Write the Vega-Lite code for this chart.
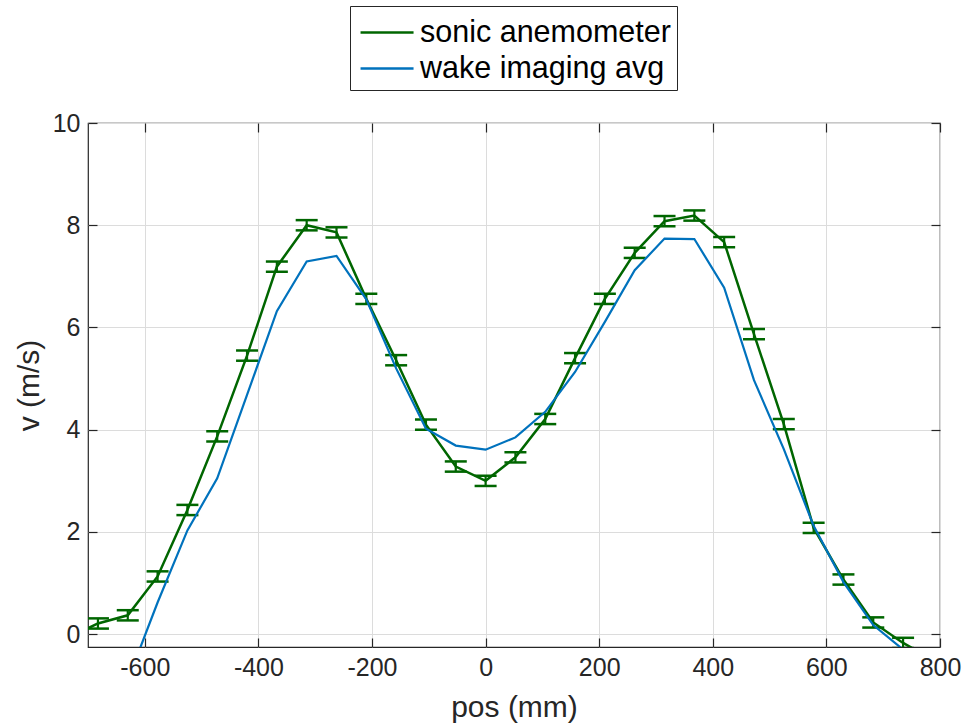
{
  "$schema": "https://vega.github.io/schema/vega-lite/v6.json",
  "width": 852,
  "height": 524,
  "autosize": {"type": "none"},
  "padding": {"left": 88, "top": 123, "right": 25, "bottom": 81},
  "config": {
    "view": {"stroke": "#262626", "strokeWidth": 1.2},
    "font": "Liberation Sans",
    "axis": {
      "domain": false,
      "tickColor": "#262626",
      "tickSize": -9,
      "tickWidth": 1.2,
      "labelColor": "#262626",
      "labelFontSize": 25,
      "labelFont": "Liberation Sans",
      "labelFlush": false,
      "labelOverlap": false,
      "titleFontSize": 30,
      "titleFont": "Liberation Sans",
      "titleFontWeight": "normal",
      "titleColor": "#262626",
      "gridColor": "#dcdcdc",
      "gridWidth": 1
    }
  },
  "datasets": {
    "sonic": [
      {"pos": -735, "v": -0.07, "err": 0.1},
      {"pos": -682.5, "v": 0.21, "err": 0.1},
      {"pos": -630, "v": 0.37, "err": 0.1},
      {"pos": -577.5, "v": 1.13, "err": 0.1},
      {"pos": -525, "v": 2.43, "err": 0.1},
      {"pos": -472.5, "v": 3.87, "err": 0.1},
      {"pos": -420, "v": 5.45, "err": 0.1},
      {"pos": -367.5, "v": 7.19, "err": 0.1},
      {"pos": -315, "v": 8.0, "err": 0.1},
      {"pos": -262.5, "v": 7.86, "err": 0.1},
      {"pos": -210, "v": 6.56, "err": 0.1},
      {"pos": -157.5, "v": 5.36, "err": 0.1},
      {"pos": -105, "v": 4.1, "err": 0.1},
      {"pos": -52.5, "v": 3.28, "err": 0.1},
      {"pos": 0, "v": 3.0, "err": 0.1},
      {"pos": 52.5, "v": 3.46, "err": 0.1},
      {"pos": 105, "v": 4.21, "err": 0.1},
      {"pos": 157.5, "v": 5.4, "err": 0.1},
      {"pos": 210, "v": 6.56, "err": 0.1},
      {"pos": 262.5, "v": 7.46, "err": 0.1},
      {"pos": 315, "v": 8.08, "err": 0.1},
      {"pos": 367.5, "v": 8.19, "err": 0.1},
      {"pos": 420, "v": 7.67, "err": 0.1},
      {"pos": 472.5, "v": 5.87, "err": 0.1},
      {"pos": 525, "v": 4.11, "err": 0.1},
      {"pos": 577.5, "v": 2.08, "err": 0.1},
      {"pos": 630, "v": 1.07, "err": 0.1},
      {"pos": 682.5, "v": 0.23, "err": 0.1},
      {"pos": 735, "v": -0.17, "err": 0.1},
      {"pos": 787.5, "v": -0.5, "err": 0.1}
    ],
    "wake": [
      {"pos": -630, "v": -0.9},
      {"pos": -577.5, "v": 0.62},
      {"pos": -525, "v": 2.03},
      {"pos": -472.5, "v": 3.05},
      {"pos": -420, "v": 4.68},
      {"pos": -367.5, "v": 6.32},
      {"pos": -315, "v": 7.29},
      {"pos": -262.5, "v": 7.4},
      {"pos": -210, "v": 6.55},
      {"pos": -157.5, "v": 5.2},
      {"pos": -105, "v": 4.02},
      {"pos": -52.5, "v": 3.69},
      {"pos": 0, "v": 3.61},
      {"pos": 52.5, "v": 3.85},
      {"pos": 105, "v": 4.35},
      {"pos": 157.5, "v": 5.13},
      {"pos": 210, "v": 6.11},
      {"pos": 262.5, "v": 7.12},
      {"pos": 315, "v": 7.74},
      {"pos": 367.5, "v": 7.73},
      {"pos": 420, "v": 6.78},
      {"pos": 472.5, "v": 4.97},
      {"pos": 525, "v": 3.62},
      {"pos": 577.5, "v": 2.12},
      {"pos": 630, "v": 1.02},
      {"pos": 682.5, "v": 0.18},
      {"pos": 735, "v": -0.3}
    ]
  },
  "layer": [
    {
      "data": {"name": "sonic"},
      "transform": [{"calculate": "'sonic anemometer'", "as": "series"}],
      "mark": {"type": "line", "strokeWidth": 2.5, "clip": true},
      "encoding": {
        "x": {
          "field": "pos", "type": "quantitative",
          "scale": {"domain": [-700, 800], "nice": false, "zero": false},
          "axis": {"title": "pos (mm)", "values": [-600, -400, -200, 0, 200, 400, 600, 800], "grid": true, "labelPadding": 17, "titlePadding": 12,
                   "labelExpr": "datum.value < 0 ? '-' + abs(datum.value) : '' + datum.value"}
        },
        "y": {
          "field": "v", "type": "quantitative",
          "scale": {"domain": [-0.25, 10], "nice": false, "zero": false},
          "axis": {"title": "v (m/s)", "values": [0, 2, 4, 6, 8, 10], "grid": true, "labelPadding": 17, "titlePadding": 8}
        },
        "color": {
          "field": "series", "type": "nominal",
          "scale": {"domain": ["sonic anemometer", "wake imaging avg"], "range": ["#006600", "#0072BD"]},
          "legend": {
            "orient": "none", "legendX": 262, "legendY": -117,
            "title": null, "symbolType": "M-0.84,0H1.95", "symbolSize": 1444, "symbolStrokeWidth": 2.5,
            "labelFontSize": 30.5, "labelColor": "#000000", "labelFont": "Liberation Sans", "labelLimit": 400,
            "strokeColor": "#262626", "fillColor": "#ffffff", "padding": 6, "rowPadding": 0, "labelOffset": 23
          }
        }
      }
    },
    {
      "data": {"name": "sonic"},
      "mark": {"type": "errorbar", "color": "#006600", "clip": true, "thickness": 2.2, "opacity": 1,
               "rule": {"opacity": 1, "color": "#006600"},
               "ticks": {"size": 22, "thickness": 2.5, "color": "#006600", "opacity": 1}},
      "encoding": {
        "x": {"field": "pos", "type": "quantitative", "axis": null},
        "y": {"field": "v", "type": "quantitative", "axis": null},
        "yError": {"field": "err"}
      }
    },
    {
      "data": {"name": "wake"},
      "transform": [{"calculate": "'wake imaging avg'", "as": "series"}],
      "mark": {"type": "line", "strokeWidth": 2.2, "clip": true},
      "encoding": {
        "x": {"field": "pos", "type": "quantitative", "axis": {"orient": "top", "values": [-600, -400, -200, 0, 200, 400, 600, 800], "labels": false, "title": null, "grid": false}},
        "y": {"field": "v", "type": "quantitative", "axis": {"orient": "right", "values": [0, 2, 4, 6, 8, 10], "labels": false, "title": null, "grid": false}},
        "color": {"field": "series", "type": "nominal"}
      }
    }
  ],
  "resolve": {"axis": {"x": "independent", "y": "independent"}}
}
